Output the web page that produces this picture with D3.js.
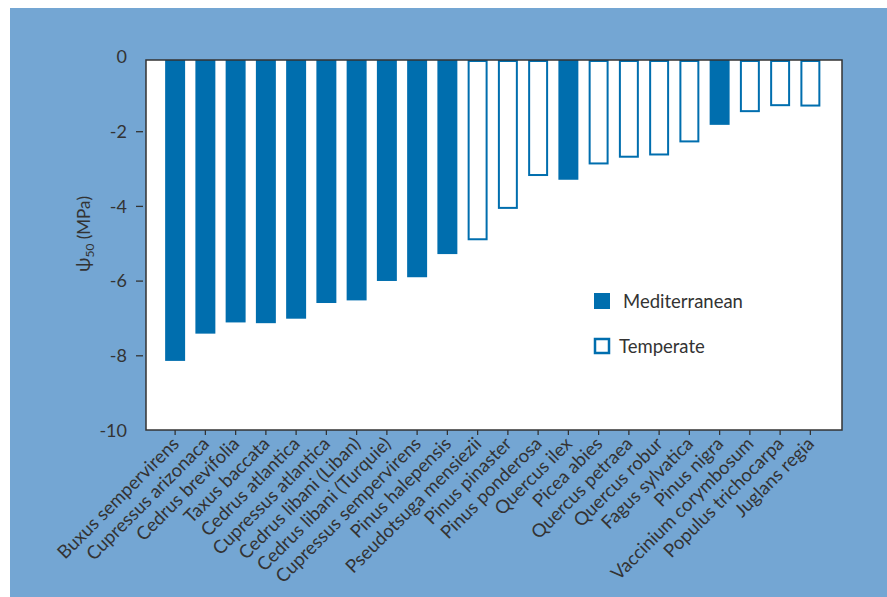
<!DOCTYPE html>
<html><head><meta charset="utf-8">
<script src="https://cdn.jsdelivr.net/npm/d3@7"></script>
<style>
html,body{margin:0;padding:0;background:#fff;}
svg{display:block;}
svg text{font-family:Lato, "Open Sans", sans-serif;}
</style></head>
<body>
<svg id="chart" width="887" height="597"></svg>
<script>
const species = ["Buxus sempervirens","Cupressus arizonaca","Cedrus brevifolia","Taxus baccata","Cedrus atlantica","Cupressus atlantica","Cedrus libani (Liban)","Cedrus libani (Turquie)","Cupressus sempervirens","Pinus halepensis","Pseudotsuga mensiezii","Pinus pinaster","Pinus ponderosa","Quercus ilex","Picea abies","Quercus petraea","Quercus robur","Fagus sylvatica","Pinus nigra","Vaccinium corymbosum","Populus trichocarpa","Juglans regia"];
const psi50 = [-8.15,-7.42,-7.12,-7.14,-7.02,-6.6,-6.53,-6.01,-5.91,-5.29,-4.92,-4.08,-3.2,-3.3,-2.89,-2.71,-2.65,-2.3,-1.83,-1.49,-1.33,-1.34];
const climate = ["Mediterranean","Mediterranean","Mediterranean","Mediterranean","Mediterranean","Mediterranean","Mediterranean","Mediterranean","Mediterranean","Mediterranean","Temperate","Temperate","Temperate","Mediterranean","Temperate","Temperate","Temperate","Temperate","Mediterranean","Temperate","Temperate","Temperate"];
const yTicks = [0,-2,-4,-6,-8,-10];
const legendItems = ["Mediterranean","Temperate"];

const BLUE = "#006eae";
const PANEL = "#74a6d3";
const INK = "#333333";
const FONT = "Lato, 'Open Sans', sans-serif";

const svg = d3.select("#chart");
svg.append("rect").attr("x",10).attr("y",8).attr("width",877).attr("height",589).attr("fill",PANEL);

const frame = {left:146, right:842, top:60, bottom:430};
const y = d3.scaleLinear().domain([0,-10]).range([56.5,430]);
const x = d3.scaleBand().domain(species).range([160,825.5]).paddingInner(0.34).paddingOuter(0.17);

svg.append("rect").attr("x",frame.left).attr("y",frame.top)
  .attr("width",frame.right-frame.left).attr("height",frame.bottom-frame.top)
  .attr("fill","#fff");

const data = species.map((s,i)=>({s, v:psi50[i], c:climate[i]}));
svg.append("g").selectAll("rect").data(data).join("rect")
  .attr("x", d => d.c==="Temperate" ? x(d.s)+1 : x(d.s))
  .attr("y", d => d.c==="Temperate" ? frame.top+1 : frame.top)
  .attr("width", d => d.c==="Temperate" ? x.bandwidth()-2 : x.bandwidth())
  .attr("height", d => d.c==="Temperate" ? y(d.v)-frame.top-2 : y(d.v)-frame.top)
  .attr("fill", d => d.c==="Temperate" ? "#fff" : BLUE)
  .attr("stroke", d => d.c==="Temperate" ? BLUE : "none")
  .attr("stroke-width", 2);

svg.append("rect").attr("x",frame.left).attr("y",frame.top)
  .attr("width",frame.right-frame.left).attr("height",frame.bottom-frame.top)
  .attr("fill","none").attr("stroke",INK).attr("stroke-width",1.5);

const yAxis = d3.axisLeft(y).tickValues(yTicks).tickFormat(d => String(d)).tickSize(7).tickPadding(10);
const gy = svg.append("g").attr("transform",`translate(${frame.left-3},0)`).call(yAxis)
  .attr("font-family",FONT);
gy.select(".domain").remove();
gy.selectAll(".tick line").attr("stroke",INK).attr("stroke-width",1.3)
  .attr("opacity", d => (d===0||d===-10)?0:1);
gy.selectAll(".tick text").attr("fill",INK).style("font-size","18px").attr("x",-16)
  .attr("dy","0.35em");

const xAxis = d3.axisBottom(x).tickSize(5).tickPadding(4);
const gx = svg.append("g").attr("transform",`translate(0,${frame.bottom})`).call(xAxis)
  .attr("font-family",FONT);
gx.select(".domain").remove();
gx.selectAll(".tick line").attr("stroke",INK).attr("stroke-width",1.3);
gx.selectAll(".tick text").attr("fill",INK).style("font-size","18.5px")
  .attr("text-anchor","end").attr("dy",null).attr("y",0)
  .attr("transform","translate(5,15) rotate(-45)");

const yl = svg.append("text").attr("transform","translate(90,234) rotate(-90)")
  .attr("text-anchor","middle").attr("fill",INK).style("font-size","17px");
yl.append("tspan").style("font-size","19px").text("\u03C8");
yl.append("tspan").attr("dy",4).style("font-size","12px").text("50");
yl.append("tspan").attr("dy",-4).text(" (MPa)");

const lg = svg.append("g").selectAll("g").data(legendItems).join("g")
  .attr("transform",(d,i)=>`translate(594,${293+i*45})`);
lg.append("rect")
  .attr("x", d => d==="Temperate" ? 1 : 0)
  .attr("y", d => d==="Temperate" ? 1 : 0)
  .attr("width", d => d==="Temperate" ? 14 : 16)
  .attr("height", d => d==="Temperate" ? 14 : 16)
  .attr("fill", d => d==="Temperate" ? "#fff" : BLUE)
  .attr("stroke", d => d==="Temperate" ? BLUE : "none").attr("stroke-width",2.5);
lg.append("text").attr("x", d => d==="Temperate" ? 25 : 29).attr("y",15)
  .attr("fill",INK).style("font-size","18.5px").text(d=>d);
</script>
</body></html>
